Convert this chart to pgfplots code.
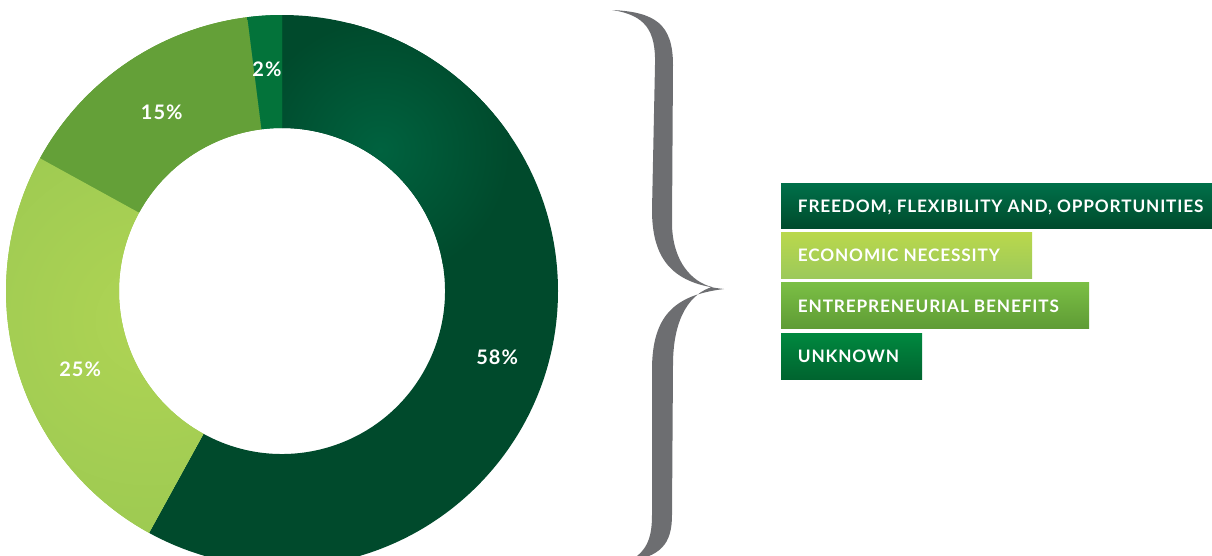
\documentclass[border=0pt]{standalone}
\usepackage{fontspec}
\setmainfont{Lato}
\newfontfamily\legfamily{Lato}[LetterSpace=5]
\usepackage{pgfplots}
\usepackage{pgfplotstable}
\pgfplotsset{compat=1.18}
\usetikzlibrary{calc}
\definecolor{segA}{HTML}{004A2C}
\definecolor{segAl}{HTML}{00623F}
\definecolor{segB}{HTML}{9DCA52}
\definecolor{segBl}{HTML}{AFD454}
\definecolor{segC}{HTML}{64A038}
\definecolor{segD}{HTML}{03733A}
\definecolor{braceC}{HTML}{6D6E71}
\definecolor{LAt}{HTML}{00704A}\definecolor{LAb}{HTML}{004B2C}
\definecolor{LBt}{HTML}{BAD84C}\definecolor{LBb}{HTML}{9CC95A}
\definecolor{LCt}{HTML}{7BBF45}\definecolor{LCb}{HTML}{5F9C35}
\definecolor{LDt}{HTML}{00883F}\definecolor{LDb}{HTML}{00642F}
\pgfplotstableread{
label value
Freedom 58
Economic 25
Entrepreneurial 15
Unknown 2
}\piedata
\newcommand\legfont{\legfamily\bfseries\fontsize{8.6pt}{10pt}\selectfont}
\newcommand\pctfont{\legfamily\bfseries\fontsize{10pt}{12pt}\selectfont}
\begin{document}
\begin{tikzpicture}
\begin{axis}[at={(0,0)}, anchor=south west, scale only axis,
  width=606pt, height=278pt, xmin=0, xmax=1212, ymin=0, ymax=556,
  y dir=reverse, hide axis, clip=false]
\pgfplotsextra{
  \gdef\cum{0}
  \foreach \i/\ci/\co/\sx/\sy/\sr/\da/\lr in {0/segAl/segA/380/150/65/-2.6/112.5, 1/segBl/segB/150/320/110/4.9/108.2, 2/segC/segC/150/150/100/-0.2/107.5, 3/segD/segD/265/70/50/0.3/111} {
    \pgfplotstablegetelem{\i}{value}\of\piedata
    \let\v\pgfplotsretval
    \pgfmathsetmacro\aS{90-3.6*\cum}
    \pgfmathsetmacro\aE{90-3.6*(\cum+\v)}
    \pgfmathsetmacro\aM{(\aS+\aE)/2+\da}
    \begin{scope}
      \clip (axis cs:282,291) ++(\aS:138pt) arc[start angle=\aS, end angle=\aE, radius=138pt]
        -- ($(axis cs:282,291)+(\aE:81.5pt)$) arc[start angle=\aE, end angle=\aS, radius=81.5pt] -- cycle;
      \fill[\co] (axis cs:0,0) rectangle (axis cs:600,600);
      \shade[inner color=\ci, outer color=\co] (axis cs:\sx,\sy) circle (\sr pt);
    \end{scope}
    \node[text=white, font=\pctfont] at ($(axis cs:282,291)+(\aM:\lr pt)$) {\v\%};
    \pgfmathsetmacro\newcum{\cum+\v}
    \xdef\cum{\newcum}
  }
  % legend boxes
  \shade[top color=LAt, bottom color=LAb] (axis cs:781,183) rectangle (axis cs:1212,228);
  \shade[top color=LBt, bottom color=LBb] (axis cs:781,232) rectangle (axis cs:1032,278);
  \shade[top color=LCt, bottom color=LCb] (axis cs:781,282) rectangle (axis cs:1089,328);
  \shade[top color=LDt, bottom color=LDb] (axis cs:781,333) rectangle (axis cs:922,379);
  \node[anchor=base west, inner sep=0pt, text=white, font=\legfont] at (axis cs:797.5,212.5) {FREEDOM, FLEXIBILITY AND, OPPORTUNITIES};
  \node[anchor=base west, inner sep=0pt, text=white, font=\legfont] at (axis cs:797.5,261.7) {ECONOMIC NECESSITY};
  \node[anchor=base west, inner sep=0pt, text=white, font=\legfont] at (axis cs:797.5,312.3) {ENTREPRENEURIAL BENEFITS};
  \node[anchor=base west, inner sep=0pt, text=white, font=\legfont] at (axis cs:797.5,362.7) {UNKNOWN};
  % brace
  \fill[braceC] (axis cs:612,10)
    .. controls (axis cs:655,12) and (axis cs:673,24) .. (axis cs:673,65)
    -- (axis cs:672,225)
    .. controls (axis cs:673,262) and (axis cs:692,282) .. (axis cs:712,287)
    .. controls (axis cs:692,293) and (axis cs:673,315) .. (axis cs:673,365)
    -- (axis cs:672,515)
    .. controls (axis cs:672,545) and (axis cs:660,556) .. (axis cs:628,562)
    .. controls (axis cs:646,552) and (axis cs:652,540) .. (axis cs:652,515)
    -- (axis cs:652,370)
    .. controls (axis cs:652,315) and (axis cs:675,295) .. (axis cs:724,289)
    .. controls (axis cs:675,284) and (axis cs:652,262) .. (axis cs:652,210)
    -- (axis cs:655,65)
    .. controls (axis cs:656,30) and (axis cs:645,15) .. (axis cs:612,10) -- cycle;
}
\end{axis}
\pgfresetboundingbox
\useasboundingbox (0,0) rectangle (606pt,278pt);
\end{tikzpicture}
\end{document}
